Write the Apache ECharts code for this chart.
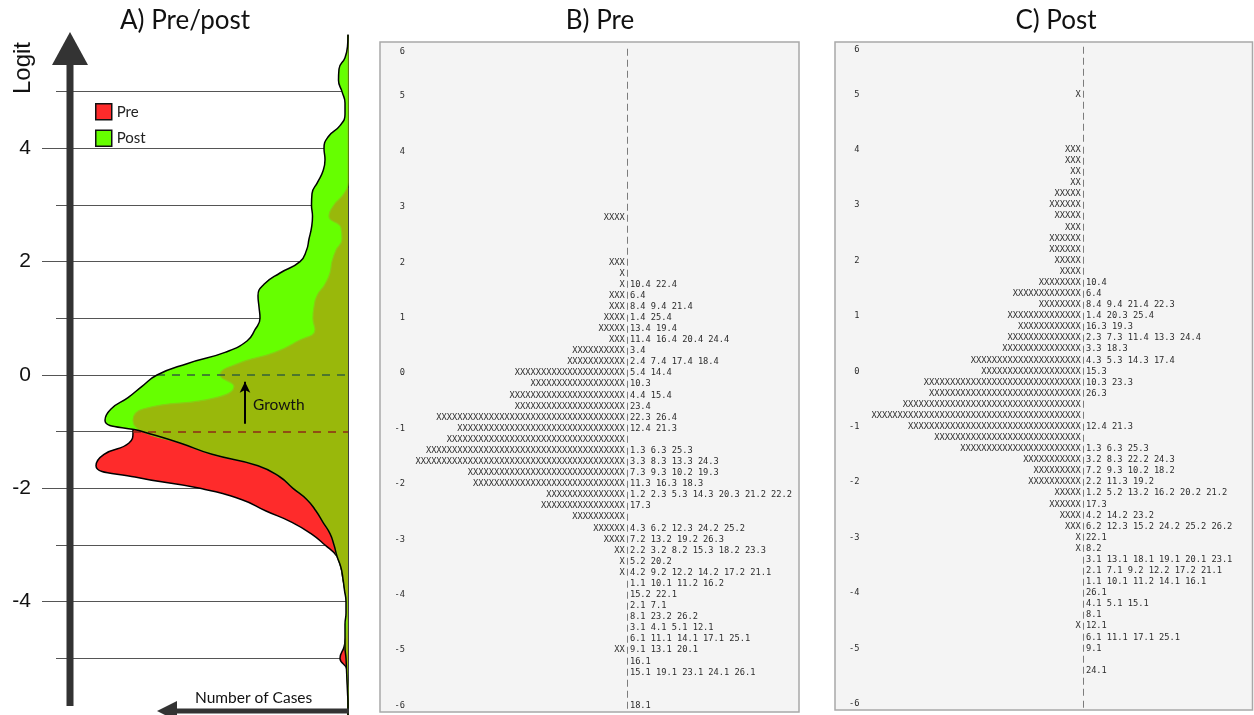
<!DOCTYPE html>
<html>
<head>
<meta charset="utf-8">
<script src="https://cdn.jsdelivr.net/npm/echarts@6/dist/echarts.min.js"></script>
<style>
  html, body { margin: 0; padding: 0; background: #ffffff; }
  #chart { width: 1254px; height: 715px; }
</style>
</head>
<body>
<div id="chart"></div>
<script>
// ---- Panel A: smoothed person distributions, sampled every 0.2 logit (bottom to top) ----
const logitSamples = ['-6.0','-5.8','-5.6','-5.4','-5.2','-5.0','-4.8','-4.6','-4.4','-4.2',
  '-4.0','-3.8','-3.6','-3.4','-3.2','-3.0','-2.8','-2.6','-2.4','-2.2',
  '-2.0','-1.8','-1.6','-1.4','-1.2','-1.0','-0.8','-0.6','-0.4','-0.2',
  '0.0','0.2','0.4','0.6','0.8','1.0','1.2','1.4','1.6','1.8',
  '2.0','2.2','2.4','2.6','2.8','3.0','3.2','3.4','3.6','3.8',
  '4.0','4.2','4.4','4.6','4.8','5.0','5.2','5.4','5.6','5.8','6.0'];

// number of cases (relative density) at each sample
const preDensity = [0, 0, 0, 0.05, 0.1, 0.8, 0.4, 0.2, 0.1, 0.1,
  0.1, 0.3, 0.5, 0.7, 1.1, 2.3, 3.7, 5.6, 8.2, 10.6,
  14.8, 21.3, 25.2, 24.4, 21.9, 21.5, 21.5, 20.5, 13.2, 11.4,
  12.8, 11.0, 7.3, 5.0, 3.3, 3.5, 3.4, 3.1, 2.3, 1.8,
  1.6, 1.2, 0.6, 0.7, 1.9, 1.4, 0.4, 0, 0, 0,
  0, 0, 0, 0, 0, 0, 0, 0, 0, 0, 0];

const postDensity = [0, 0, 0.05, 0.1, 0.15, 0.2, 0.3, 0.3, 0.3, 0.2,
  0.2, 0.35, 0.5, 0.7, 1.1, 1.4, 1.8, 2.5, 3.2, 4.1,
  5.5, 6.8, 9.0, 13.6, 16.8, 20.5, 24.3, 23.7, 22.0, 20.6,
  19.1, 16.1, 12.3, 10.1, 9.3, 8.8, 8.9, 9.0, 8.4, 6.8,
  4.8, 4.15, 3.9, 3.65, 3.55, 3.65, 3.6, 3.05, 2.5, 2.3,
  2.4, 2.0, 0.8, 0.3, 0.3, 0.6, 0.95, 0.9, 0.3, 0.05, 0];

// mean ability before and after
const preMean = -1;
const postMean = 0;

// ---- Panels B and C: item-person maps, one text row per 0.2 logit (top to bottom) ----
const mapRowLabels = ['6','','','','5','','','','','4',
  '','','','','3','','','','','2',
  '','','','','1','','','','','0',
  '','','','','-1','','','','','-2',
  '','','','','-3','','','','','-4',
  '','','','','-5','','','','','-6'];

const prePersons = [0,0,0,0,0,0,0,0,0,0,
  0,0,0,0,0,4,0,0,0,3,
  1,1,3,3,4,5,3,10,11,21,
  18,22,21,36,32,34,38,40,30,29,
  15,16,10,6,4,2,1,1,0,0,
  0,0,0,0,2,0,0,0,0,0];

const preItems = ['','','','','','','','','','',
  '','','','','','','','','','',
  '','10.4 22.4','6.4','8.4 9.4 21.4','1.4 25.4','13.4 19.4','11.4 16.4 20.4 24.4','3.4','2.4 7.4 17.4 18.4','5.4 14.4',
  '10.3','4.4 15.4','23.4','22.3 26.4','12.4 21.3','','1.3 6.3 25.3','3.3 8.3 13.3 24.3','7.3 9.3 10.2 19.3','11.3 16.3 18.3',
  '1.2 2.3 5.3 14.3 20.3 21.2 22.2','17.3','','4.3 6.2 12.3 24.2 25.2','7.2 13.2 19.2 26.3','2.2 3.2 8.2 15.3 18.2 23.3','5.2 20.2','4.2 9.2 12.2 14.2 17.2 21.1','1.1 10.1 11.2 16.2','15.2 22.1',
  '2.1 7.1','8.1 23.2 26.2','3.1 4.1 5.1 12.1','6.1 11.1 14.1 17.1 25.1','9.1 13.1 20.1','16.1','15.1 19.1 23.1 24.1 26.1','','','18.1'];

const postPersons = [0,0,0,0,1,0,0,0,0,3,
  3,2,2,5,6,5,3,6,6,5,
  4,8,13,8,14,12,14,15,21,19,
  30,29,34,40,33,28,23,11,9,10,
  5,6,4,3,1,1,0,0,0,0,
  0,0,1,0,0,0,0,0,0,0];

const postItems = ['','','','','','','','','','',
  '','','','','','','','','','',
  '','10.4','6.4','8.4 9.4 21.4 22.3','1.4 20.3 25.4','16.3 19.3','2.3 7.3 11.4 13.3 24.4','3.3 18.3','4.3 5.3 14.3 17.4','15.3',
  '10.3 23.3','26.3','','','12.4 21.3','','1.3 6.3 25.3','3.2 8.3 22.2 24.3','7.2 9.3 10.2 18.2','2.2 11.3 19.2',
  '1.2 5.2 13.2 16.2 20.2 21.2','17.3','4.2 14.2 23.2','6.2 12.3 15.2 24.2 25.2 26.2','22.1','8.2','3.1 13.1 18.1 19.1 20.1 23.1','2.1 7.1 9.2 12.2 17.2 21.1','1.1 10.1 11.2 14.1 16.1','26.1',
  '4.1 5.1 15.1','8.1','12.1','6.1 11.1 17.1 25.1','9.1','','24.1','','',''];

// ---- styling ----
const RED = '#fe2b2b';
const GREEN = '#66ff00';
const OLIVE = '#99b80b';
const SANS = 'Lato';
const MONO = '"DejaVu Sans Mono"';
const MONO_SIZE = 8.7;
const CELL = MONO_SIZE * 0.602;   // advance width of one monospace cell
const INK = '#2b2b2b';

const overlapDensity = preDensity.map((v, i) => Math.min(v, postDensity[i]));
const densityAt = (arr, logit) => arr[logitSamples.findIndex(s => Math.abs(parseFloat(s) - logit) < 1e-9)];

// one text row per map line: persons as X's, the ruler bar, then the items at that level
function mapSeries(axisIndex, persons, items) {
  return {
    type: 'custom',
    xAxisIndex: axisIndex,
    yAxisIndex: axisIndex + 1,
    silent: true,
    data: persons.map((n, i) => [0, i, n]),
    renderItem: function (params, api) {
      const p = api.coord([0, api.value(1)]);
      const n = api.value(2);
      const font = MONO_SIZE + 'px ' + MONO;
      return {
        type: 'group',
        children: [
          { type: 'text', x: p[0] - CELL, y: p[1],
            style: { text: 'X'.repeat(n), font: font, fill: INK, align: 'right', verticalAlign: 'middle' } },
          { type: 'text', x: p[0] - CELL / 2, y: p[1],
            style: { text: '|', font: '7px ' + MONO, fill: INK, align: 'center', verticalAlign: 'middle' } },
          { type: 'text', x: p[0], y: p[1],
            style: { text: items[params.dataIndex], font: font, fill: INK, align: 'left', verticalAlign: 'middle' } }
        ]
      };
    }
  };
}

function mapRowAxis(gridIndex, margin) {
  return {
    type: 'category', gridIndex: gridIndex, inverse: true, data: mapRowLabels,
    axisLine: { show: false }, axisTick: { show: false }, splitLine: { show: false },
    axisLabel: { interval: 0, margin: margin, fontFamily: 'DejaVu Sans Mono', fontSize: MONO_SIZE, color: INK }
  };
}

const chart = echarts.init(document.getElementById('chart'), null, { renderer: 'canvas' });

const titleStyle = { fontFamily: SANS, fontSize: 26, fontWeight: 'normal', color: '#111' };

const option = {
  animation: false,
  backgroundColor: '#ffffff',
  title: [
    { text: 'A) Pre/post', left: 180, top: 3, textAlign: 'center', textStyle: titleStyle },
    { text: 'B) Pre', left: 595, top: 3, textAlign: 'center', textStyle: titleStyle },
    { text: 'C) Post', left: 1051, top: 3, textAlign: 'center', textStyle: titleStyle }
  ],
  legend: {
    data: [
      { name: 'Pre', itemStyle: { color: RED, borderColor: '#111', borderWidth: 1.5 } },
      { name: 'Post', itemStyle: { color: GREEN, borderColor: '#111', borderWidth: 1.5 } }
    ],
    orient: 'vertical', left: 90, top: 98, icon: 'rect',
    itemWidth: 16, itemHeight: 16, itemGap: 9, selectedMode: false,
    textStyle: { fontFamily: SANS, fontSize: 15, color: '#222' }
  },
  grid: [
    { left: 42, top: 35, width: 306, height: 686 },       // A: labelled logit lines
    { left: 56, top: 35, width: 292, height: 686 },       // A: distributions
    { left: 629.9, top: 46.2, width: 150, height: 665 },  // B
    { left: 1085.9, top: 44.5, width: 150, height: 664.8 } // C
  ],
  xAxis: [
    { type: 'value', gridIndex: 0, min: 0, max: 1, show: false },
    { type: 'value', gridIndex: 1, min: 0, max: 29.2, inverse: true, show: false },
    { type: 'value', gridIndex: 2, min: 0, max: 1, show: false },
    { type: 'value', gridIndex: 3, min: 0, max: 1, show: false }
  ],
  yAxis: [
    { type: 'value', gridIndex: 0, min: -6, max: 6, interval: 2,
      axisLine: { show: false }, axisTick: { show: false },
      splitLine: { show: true, showMinLine: false, showMaxLine: false, lineStyle: { color: '#555', width: 1 } },
      axisLabel: { margin: 11, fontFamily: 'Liberation Sans', fontSize: 21, color: '#111',
        showMinLabel: false, showMaxLabel: false } },
    { type: 'value', gridIndex: 1, min: -6, max: 6, interval: 1,
      axisLine: { show: false }, axisTick: { show: false }, axisLabel: { show: false },
      splitLine: { show: true, showMinLine: false, showMaxLine: false, lineStyle: { color: '#555', width: 1 } } },
    { type: 'category', gridIndex: 1, data: logitSamples, boundaryGap: false, position: 'right',
      axisLine: { show: true, lineStyle: { color: '#000', width: 1.5 } },
      axisTick: { show: false }, axisLabel: { show: false }, splitLine: { show: false } },
    mapRowAxis(2, 225),
    mapRowAxis(3, 226.4)
  ],
  series: [
    { name: 'Pre', type: 'line', xAxisIndex: 1, yAxisIndex: 2, data: preDensity,
      smooth: 0.5, showSymbol: false, z: 2, silent: true,
      itemStyle: { color: RED }, lineStyle: { color: '#000', width: 1.5 },
      areaStyle: { color: RED, opacity: 1 } },
    { name: 'Post', type: 'line', xAxisIndex: 1, yAxisIndex: 2, data: postDensity,
      smooth: 0.5, showSymbol: false, z: 3, silent: true,
      itemStyle: { color: GREEN }, lineStyle: { width: 0, opacity: 0 },
      areaStyle: { color: GREEN, opacity: 1 } },
    { name: 'Both', type: 'line', xAxisIndex: 1, yAxisIndex: 2, data: overlapDensity,
      smooth: 0.5, showSymbol: false, z: 4, silent: true,
      itemStyle: { color: OLIVE }, lineStyle: { color: '#86cf12', width: 1.2 },
      areaStyle: { color: OLIVE, opacity: 1 } },
    { name: 'Post outline', type: 'line', xAxisIndex: 1, yAxisIndex: 2, data: postDensity,
      smooth: 0.5, showSymbol: false, z: 5, silent: true,
      lineStyle: { color: '#000', width: 1.5 } },
    { name: 'Means', type: 'line', xAxisIndex: 1, yAxisIndex: 1, data: [], z: 6, silent: true,
      markLine: {
        silent: true, symbol: ['none', 'none'], label: { show: false }, animation: false,
        data: [
          [ { coord: [densityAt(postDensity, postMean), postMean], lineStyle: { color: '#35603a', width: 1.5, type: [8, 7] } },
            { coord: [0, postMean] } ],
          [ { coord: [densityAt(preDensity, preMean), preMean], lineStyle: { color: '#8d2a17', width: 1.5, type: [8, 7] } },
            { coord: [0, preMean] } ],
          [ { coord: [10.3, preMean + 0.14], symbol: 'none', lineStyle: { color: '#000', width: 2, type: 'solid' } },
            { coord: [10.3, postMean - 0.12], symbol: 'arrow', symbolSize: [8, 11] } ]
        ]
      } },
    mapSeries(2, prePersons, preItems),
    mapSeries(3, postPersons, postItems)
  ],
  graphic: [
    // boxes behind the item-person maps
    { type: 'rect', z: -10, shape: { x: 380, y: 42, width: 419, height: 670 },
      style: { fill: '#f4f4f4', stroke: '#a8a8a8', lineWidth: 1.5 } },
    { type: 'rect', z: -10, shape: { x: 835, y: 42, width: 417.5, height: 668 },
      style: { fill: '#f4f4f4', stroke: '#a8a8a8', lineWidth: 1.5 } },
    // logit arrow
    { type: 'rect', z: 20, shape: { x: 66.5, y: 62, width: 7, height: 644 }, style: { fill: '#333' } },
    { type: 'polygon', z: 20, shape: { points: [[70, 32], [52, 65], [88, 65]] }, style: { fill: '#333' } },
    { type: 'text', z: 20, x: 23, y: 68, rotation: Math.PI / 2,
      style: { text: 'Logit', font: '24px "Liberation Sans"', fill: '#111', align: 'center', verticalAlign: 'middle' } },
    // number-of-cases arrow
    { type: 'rect', z: 20, shape: { x: 175, y: 708.5, width: 174, height: 5 }, style: { fill: '#333' } },
    { type: 'polygon', z: 20, shape: { points: [[157, 711], [177, 701], [177, 721]] }, style: { fill: '#333' } },
    { type: 'text', z: 20, x: 195, y: 698,
      style: { text: 'Number of Cases', font: '15.5px Lato', fill: '#111', align: 'left', verticalAlign: 'middle' } },
    { type: 'text', z: 20, x: 253, y: 405,
      style: { text: 'Growth', font: '15.5px Lato', fill: '#111', align: 'left', verticalAlign: 'middle' } }
  ]
};

chart.setOption(option);
</script>
</body>
</html>
